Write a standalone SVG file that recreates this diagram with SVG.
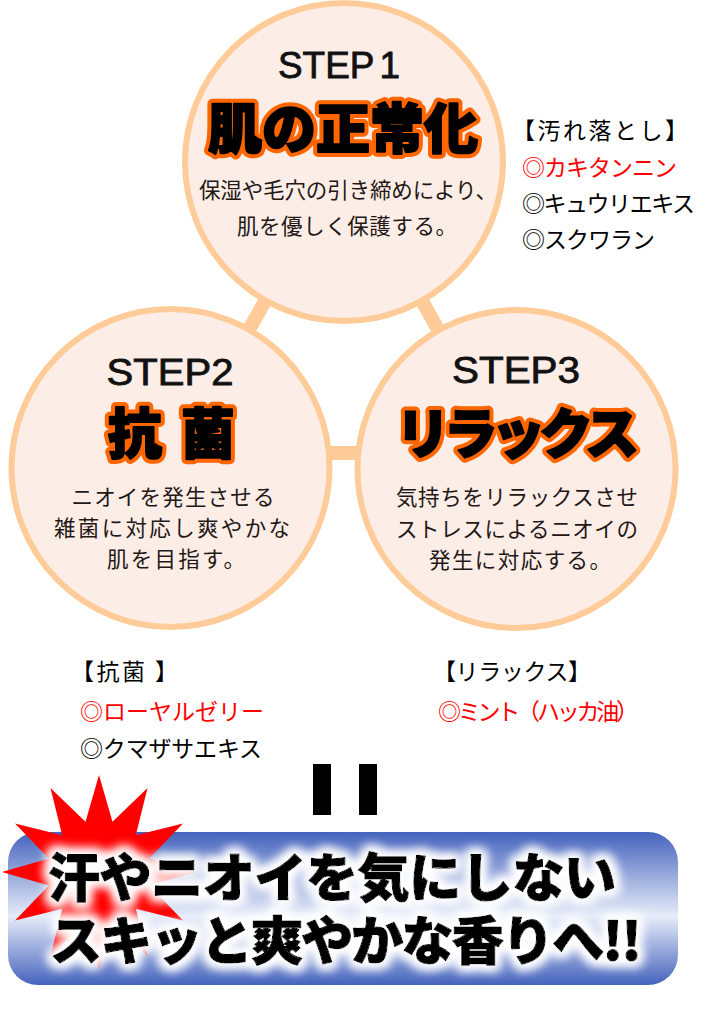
<svg xmlns="http://www.w3.org/2000/svg" width="703" height="1012" viewBox="0 0 703 1012">
<defs>
<style>
.circ{fill:#FCEDE7;stroke:#FFCC99;stroke-width:6}
.conn{stroke:#FFCC99;stroke-width:14;fill:none}
.step{font-family:"Liberation Sans","Noto Sans CJK JP",sans-serif;font-size:36px;fill:#111;stroke:#111;stroke-width:0.8;text-anchor:middle}
.tt{font-family:"Noto Sans CJK JP",sans-serif;font-weight:900;font-size:54px}
.outl{fill:#000;stroke:#FF6600;stroke-width:10;stroke-linejoin:round}
.thick{fill:#000;stroke:#000;stroke-width:2;stroke-linejoin:round}
.desc{font-family:"Noto Sans CJK JP",sans-serif;font-size:21.5px;fill:#231815;text-anchor:middle}
.list{font-family:"Noto Sans CJK JP",sans-serif;font-size:23px;fill:#000}
.red{fill:#FF0000}
.ban{font-family:"Noto Sans CJK JP",sans-serif;font-weight:900;font-size:52px;fill:#000;stroke:#000;stroke-width:1.2;stroke-linejoin:round}
</style>
<linearGradient id="bg" x1="0" y1="0" x2="0" y2="1">
<stop offset="0" stop-color="#4563BD"/>
<stop offset="0.55" stop-color="#E6ECF8"/>
<stop offset="1" stop-color="#4563BD"/>
</linearGradient>
<filter id="glow" x="-10%" y="-40%" width="120%" height="180%">
<feMorphology operator="dilate" radius="4" in="SourceAlpha" result="d"/>
<feGaussianBlur in="d" stdDeviation="5.5" result="b"/>
<feFlood flood-color="#ffffff"/>
<feComposite in2="b" operator="in" result="g"/>
<feMerge><feMergeNode in="g"/><feMergeNode in="g"/><feMergeNode in="SourceGraphic"/></feMerge>
</filter>
</defs>
<rect width="703" height="1012" fill="#fff"/>
<g id="connectors">
<line class="conn" x1="344" y1="162" x2="170.5" y2="468"/>
<line class="conn" x1="344" y1="162" x2="516.5" y2="469"/>
<line class="conn" x1="170.5" y1="453" x2="516.5" y2="453"/>
</g>
<g id="step1">
<circle class="circ" cx="344" cy="162" r="159"/>
<text class="step" x="339" y="78" textLength="122" lengthAdjust="spacingAndGlyphs">STEP<tspan dx="5">1</tspan></text>
<g class="outl"><text id="title1" class="tt" x="343" y="149" text-anchor="middle">肌の正常化</text></g>
<use href="#title1" class="thick"/>
<text class="desc" x="348" y="198" textLength="298">保湿や毛穴の引き締めにより、</text>
<text class="desc" x="347" y="234" textLength="220">肌を優しく保護する。</text>
</g>
<g id="step2">
<circle class="circ" cx="170.5" cy="468" r="159"/>
<text class="step" x="170" y="385" textLength="127" lengthAdjust="spacingAndGlyphs">STEP2</text>
<g class="outl"><text id="title2" class="tt" x="108 162 181" y="454">抗 菌</text></g>
<use href="#title2" class="thick"/>
<text class="desc" x="173" y="505" textLength="203">ニオイを発生させる</text>
<text class="desc" x="172" y="536" textLength="236">雑菌に対応し爽やかな</text>
<text class="desc" x="176" y="567" textLength="138">肌を目指す。</text>
</g>
<g id="step3">
<circle class="circ" cx="516.5" cy="469" r="159"/>
<text class="step" x="516" y="383" textLength="128" lengthAdjust="spacingAndGlyphs">STEP3</text>
<g class="outl"><text id="title3" class="tt" x="517.5" y="454" text-anchor="middle" textLength="243">リラックス</text></g>
<use href="#title3" class="thick"/>
<text class="desc" x="517" y="505" textLength="242">気持ちをリラックスさせ</text>
<text class="desc" x="517" y="537" textLength="242">ストレスによるニオイの</text>
<text class="desc" x="520" y="568" textLength="182">発生に対応する。</text>
</g>
<g id="list-yogore">
<text class="list" x="512" y="139" textLength="176">【汚れ落とし】</text>
<text class="list red" x="522" y="176" textLength="155">◎カキタンニン</text>
<text class="list" x="522" y="212" textLength="173">◎キュウリエキス</text>
<text class="list" x="522" y="248" textLength="133">◎スクワラン</text>
</g>
<g id="list-koukin">
<text class="list" x="71" y="680" textLength="107">【抗菌 】</text>
<text class="list red" x="80" y="720" textLength="184">◎ローヤルゼリー</text>
<text class="list" x="80" y="757" textLength="182">◎クマザサエキス</text>
</g>
<g id="list-relax">
<text class="list" x="433" y="680" textLength="158">【リラックス】</text>
<text class="list red" x="438" y="720" textLength="201">◎ミント（ハッカ油）</text>
</g>
<g id="equals">
<rect x="313" y="764" width="18" height="51" fill="#000"/>
<rect x="359" y="764" width="18" height="51" fill="#000"/>
</g>
<g id="banner">
<rect x="8" y="832" width="670" height="153" rx="30" fill="url(#bg)"/>
<polygon fill="#FF0000" points="99,775 112.5,821.8 147.5,788 135.8,835.2 183,823.5 149.2,858.5 196,872 149.2,885.5 183,920.5 135.8,908.8 147.5,956 112.5,922.2 99,969 85.5,922.2 50.5,956 62.2,908.8 15,920.5 48.8,885.5 2,872 48.8,858.5 15,823.5 62.2,835.2 50.5,788 85.5,821.8"/>
<g filter="url(#glow)">
<text class="ban" x="48" y="897" textLength="568">汗やニオイを気にしない</text>
<text class="ban" x="50" y="960" textLength="592">スキッと爽やかな香りへ!!</text>
</g>
</g>
</svg>
